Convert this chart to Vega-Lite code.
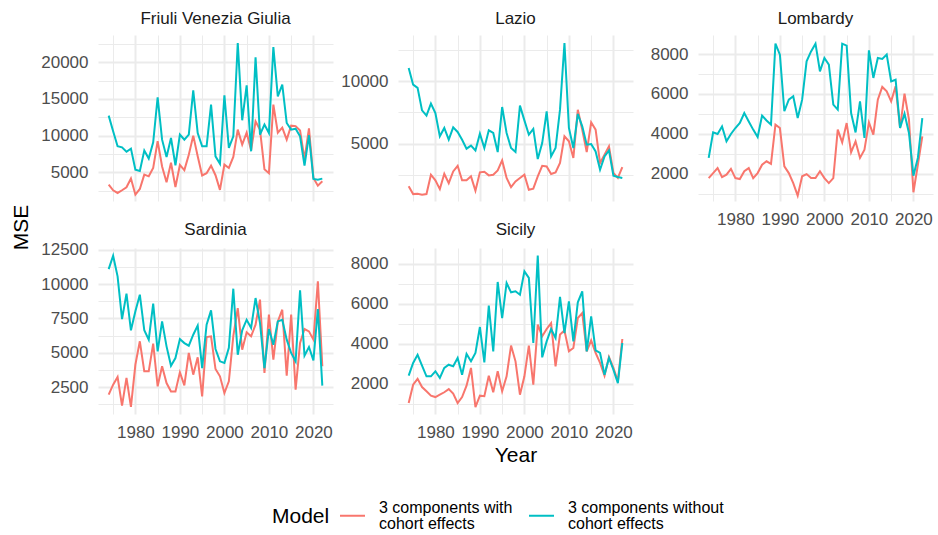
{
  "$schema": "https://vega.github.io/schema/vega-lite/v6.json",
  "autosize": {"type": "pad"},
  "padding": {"left": 10, "top": 9, "right": 5, "bottom": 5},
  "background": "white",
  "config": {
    "font": "Liberation Sans",
    "view": {"stroke": null},
    "axis": {"domain": false, "ticks": false, "tickSize": 0, "labelFontSize": 17, "labelColor": "#4D4D4D", "gridColor": "#EBEBEB", "labelPadding": 10, "titleFontSize": 21, "titleFontWeight": "normal", "titleColor": "#000000", "labelFlush": false, "labelOverlap": false},
    "title": {"fontSize": 17, "fontWeight": "normal", "color": "#1A1A1A", "offset": 7, "anchor": "middle"},
    "style": {"guide-label": {"lineHeight": 16}},
    "line": {"strokeWidth": 2}
  },
  "datasets": {
    "friuli": [
      {"year":1974,"model":"3 components with cohort effects","mse":3320},{"year":1975,"model":"3 components with cohort effects","mse":2550},{"year":1976,"model":"3 components with cohort effects","mse":2180},{"year":1977,"model":"3 components with cohort effects","mse":2550},{"year":1978,"model":"3 components with cohort effects","mse":2960},{"year":1979,"model":"3 components with cohort effects","mse":4140},{"year":1980,"model":"3 components with cohort effects","mse":1950},{"year":1981,"model":"3 components with cohort effects","mse":2730},{"year":1982,"model":"3 components with cohort effects","mse":4680},{"year":1983,"model":"3 components with cohort effects","mse":4450},{"year":1984,"model":"3 components with cohort effects","mse":5600},{"year":1985,"model":"3 components with cohort effects","mse":9250},{"year":1986,"model":"3 components with cohort effects","mse":5800},{"year":1987,"model":"3 components with cohort effects","mse":3650},{"year":1988,"model":"3 components with cohort effects","mse":6300},{"year":1989,"model":"3 components with cohort effects","mse":3000},{"year":1990,"model":"3 components with cohort effects","mse":6000},{"year":1991,"model":"3 components with cohort effects","mse":5300},{"year":1992,"model":"3 components with cohort effects","mse":7400},{"year":1993,"model":"3 components with cohort effects","mse":10000},{"year":1994,"model":"3 components with cohort effects","mse":7180},{"year":1995,"model":"3 components with cohort effects","mse":4570},{"year":1996,"model":"3 components with cohort effects","mse":4870},{"year":1997,"model":"3 components with cohort effects","mse":5910},{"year":1998,"model":"3 components with cohort effects","mse":4600},{"year":1999,"model":"3 components with cohort effects","mse":2600},{"year":2000,"model":"3 components with cohort effects","mse":6050},{"year":2001,"model":"3 components with cohort effects","mse":5590},{"year":2002,"model":"3 components with cohort effects","mse":7100},{"year":2003,"model":"3 components with cohort effects","mse":10820},{"year":2004,"model":"3 components with cohort effects","mse":8770},{"year":2005,"model":"3 components with cohort effects","mse":10400},{"year":2006,"model":"3 components with cohort effects","mse":8000},{"year":2007,"model":"3 components with cohort effects","mse":11950},{"year":2008,"model":"3 components with cohort effects","mse":10800},{"year":2009,"model":"3 components with cohort effects","mse":5400},{"year":2010,"model":"3 components with cohort effects","mse":4870},{"year":2011,"model":"3 components with cohort effects","mse":14230},{"year":2012,"model":"3 components with cohort effects","mse":10400},{"year":2013,"model":"3 components with cohort effects","mse":11100},{"year":2014,"model":"3 components with cohort effects","mse":9450},{"year":2015,"model":"3 components with cohort effects","mse":11360},{"year":2016,"model":"3 components with cohort effects","mse":11300},{"year":2017,"model":"3 components with cohort effects","mse":10700},{"year":2018,"model":"3 components with cohort effects","mse":6800},{"year":2019,"model":"3 components with cohort effects","mse":11000},{"year":2020,"model":"3 components with cohort effects","mse":4230},{"year":2021,"model":"3 components with cohort effects","mse":3180},{"year":2022,"model":"3 components with cohort effects","mse":3770},
      {"year":1974,"model":"3 components without cohort effects","mse":12730},{"year":1975,"model":"3 components without cohort effects","mse":10600},{"year":1976,"model":"3 components without cohort effects","mse":8550},{"year":1977,"model":"3 components without cohort effects","mse":8400},{"year":1978,"model":"3 components without cohort effects","mse":7800},{"year":1979,"model":"3 components without cohort effects","mse":8230},{"year":1980,"model":"3 components without cohort effects","mse":5360},{"year":1981,"model":"3 components without cohort effects","mse":5180},{"year":1982,"model":"3 components without cohort effects","mse":7980},{"year":1983,"model":"3 components without cohort effects","mse":6880},{"year":1984,"model":"3 components without cohort effects","mse":9100},{"year":1985,"model":"3 components without cohort effects","mse":15230},{"year":1986,"model":"3 components without cohort effects","mse":9450},{"year":1987,"model":"3 components without cohort effects","mse":7090},{"year":1988,"model":"3 components without cohort effects","mse":9680},{"year":1989,"model":"3 components without cohort effects","mse":5960},{"year":1990,"model":"3 components without cohort effects","mse":10140},{"year":1991,"model":"3 components without cohort effects","mse":9450},{"year":1992,"model":"3 components without cohort effects","mse":10140},{"year":1993,"model":"3 components without cohort effects","mse":16180},{"year":1994,"model":"3 components without cohort effects","mse":10360},{"year":1995,"model":"3 components without cohort effects","mse":8550},{"year":1996,"model":"3 components without cohort effects","mse":8550},{"year":1997,"model":"3 components without cohort effects","mse":14230},{"year":1998,"model":"3 components without cohort effects","mse":7180},{"year":1999,"model":"3 components without cohort effects","mse":6180},{"year":2000,"model":"3 components without cohort effects","mse":15500},{"year":2001,"model":"3 components without cohort effects","mse":8320},{"year":2002,"model":"3 components without cohort effects","mse":9910},{"year":2003,"model":"3 components without cohort effects","mse":22640},{"year":2004,"model":"3 components without cohort effects","mse":12090},{"year":2005,"model":"3 components without cohort effects","mse":16860},{"year":2006,"model":"3 components without cohort effects","mse":7860},{"year":2007,"model":"3 components without cohort effects","mse":20680},{"year":2008,"model":"3 components without cohort effects","mse":10140},{"year":2009,"model":"3 components without cohort effects","mse":11500},{"year":2010,"model":"3 components without cohort effects","mse":10360},{"year":2011,"model":"3 components without cohort effects","mse":22090},{"year":2012,"model":"3 components without cohort effects","mse":15360},{"year":2013,"model":"3 components without cohort effects","mse":16950},{"year":2014,"model":"3 components without cohort effects","mse":11730},{"year":2015,"model":"3 components without cohort effects","mse":10820},{"year":2016,"model":"3 components without cohort effects","mse":10950},{"year":2017,"model":"3 components without cohort effects","mse":9910},{"year":2018,"model":"3 components without cohort effects","mse":5910},{"year":2019,"model":"3 components without cohort effects","mse":10050},{"year":2020,"model":"3 components without cohort effects","mse":4090},{"year":2021,"model":"3 components without cohort effects","mse":4000},{"year":2022,"model":"3 components without cohort effects","mse":4140}
    ],
    "lazio": [
      {"year":1974,"model":"3 components with cohort effects","mse":1580},{"year":1975,"model":"3 components with cohort effects","mse":960},{"year":1976,"model":"3 components with cohort effects","mse":990},{"year":1977,"model":"3 components with cohort effects","mse":910},{"year":1978,"model":"3 components with cohort effects","mse":960},{"year":1979,"model":"3 components with cohort effects","mse":2510},{"year":1980,"model":"3 components with cohort effects","mse":2060},{"year":1981,"model":"3 components with cohort effects","mse":1360},{"year":1982,"model":"3 components with cohort effects","mse":2590},{"year":1983,"model":"3 components with cohort effects","mse":1840},{"year":1984,"model":"3 components with cohort effects","mse":2780},{"year":1985,"model":"3 components with cohort effects","mse":3230},{"year":1986,"model":"3 components with cohort effects","mse":2060},{"year":1987,"model":"3 components with cohort effects","mse":2060},{"year":1988,"model":"3 components with cohort effects","mse":2380},{"year":1989,"model":"3 components with cohort effects","mse":1230},{"year":1990,"model":"3 components with cohort effects","mse":2700},{"year":1991,"model":"3 components with cohort effects","mse":2750},{"year":1992,"model":"3 components with cohort effects","mse":2460},{"year":1993,"model":"3 components with cohort effects","mse":2510},{"year":1994,"model":"3 components with cohort effects","mse":2860},{"year":1995,"model":"3 components with cohort effects","mse":3660},{"year":1996,"model":"3 components with cohort effects","mse":2250},{"year":1997,"model":"3 components with cohort effects","mse":1520},{"year":1998,"model":"3 components with cohort effects","mse":1980},{"year":1999,"model":"3 components with cohort effects","mse":2250},{"year":2000,"model":"3 components with cohort effects","mse":2510},{"year":2001,"model":"3 components with cohort effects","mse":1310},{"year":2002,"model":"3 components with cohort effects","mse":1390},{"year":2003,"model":"3 components with cohort effects","mse":2380},{"year":2004,"model":"3 components with cohort effects","mse":3230},{"year":2005,"model":"3 components with cohort effects","mse":3180},{"year":2006,"model":"3 components with cohort effects","mse":2570},{"year":2007,"model":"3 components with cohort effects","mse":2700},{"year":2008,"model":"3 components with cohort effects","mse":3450},{"year":2009,"model":"3 components with cohort effects","mse":5590},{"year":2010,"model":"3 components with cohort effects","mse":5190},{"year":2011,"model":"3 components with cohort effects","mse":3850},{"year":2012,"model":"3 components with cohort effects","mse":7720},{"year":2013,"model":"3 components with cohort effects","mse":6120},{"year":2014,"model":"3 components with cohort effects","mse":4330},{"year":2015,"model":"3 components with cohort effects","mse":6710},{"year":2016,"model":"3 components with cohort effects","mse":6120},{"year":2017,"model":"3 components with cohort effects","mse":3450},{"year":2018,"model":"3 components with cohort effects","mse":4120},{"year":2019,"model":"3 components with cohort effects","mse":4790},{"year":2020,"model":"3 components with cohort effects","mse":2650},{"year":2021,"model":"3 components with cohort effects","mse":2250},{"year":2022,"model":"3 components with cohort effects","mse":3130},
      {"year":1974,"model":"3 components without cohort effects","mse":11070},{"year":1975,"model":"3 components without cohort effects","mse":9730},{"year":1976,"model":"3 components without cohort effects","mse":9470},{"year":1977,"model":"3 components without cohort effects","mse":7670},{"year":1978,"model":"3 components without cohort effects","mse":7250},{"year":1979,"model":"3 components without cohort effects","mse":8210},{"year":1980,"model":"3 components without cohort effects","mse":7460},{"year":1981,"model":"3 components without cohort effects","mse":5590},{"year":1982,"model":"3 components without cohort effects","mse":6260},{"year":1983,"model":"3 components without cohort effects","mse":5320},{"year":1984,"model":"3 components without cohort effects","mse":6310},{"year":1985,"model":"3 components without cohort effects","mse":5940},{"year":1986,"model":"3 components without cohort effects","mse":5320},{"year":1987,"model":"3 components without cohort effects","mse":4600},{"year":1988,"model":"3 components without cohort effects","mse":4840},{"year":1989,"model":"3 components without cohort effects","mse":4460},{"year":1990,"model":"3 components without cohort effects","mse":5800},{"year":1991,"model":"3 components without cohort effects","mse":4650},{"year":1992,"model":"3 components without cohort effects","mse":6070},{"year":1993,"model":"3 components without cohort effects","mse":5860},{"year":1994,"model":"3 components without cohort effects","mse":4330},{"year":1995,"model":"3 components without cohort effects","mse":7940},{"year":1996,"model":"3 components without cohort effects","mse":5860},{"year":1997,"model":"3 components without cohort effects","mse":4650},{"year":1998,"model":"3 components without cohort effects","mse":4330},{"year":1999,"model":"3 components without cohort effects","mse":8050},{"year":2000,"model":"3 components without cohort effects","mse":6870},{"year":2001,"model":"3 components without cohort effects","mse":5720},{"year":2002,"model":"3 components without cohort effects","mse":6180},{"year":2003,"model":"3 components without cohort effects","mse":3770},{"year":2004,"model":"3 components without cohort effects","mse":5050},{"year":2005,"model":"3 components without cohort effects","mse":7590},{"year":2006,"model":"3 components without cohort effects","mse":3980},{"year":2007,"model":"3 components without cohort effects","mse":4650},{"year":2008,"model":"3 components without cohort effects","mse":7730},{"year":2009,"model":"3 components without cohort effects","mse":13070},{"year":2010,"model":"3 components without cohort effects","mse":6260},{"year":2011,"model":"3 components without cohort effects","mse":4650},{"year":2012,"model":"3 components without cohort effects","mse":7380},{"year":2013,"model":"3 components without cohort effects","mse":6390},{"year":2014,"model":"3 components without cohort effects","mse":4920},{"year":2015,"model":"3 components without cohort effects","mse":4970},{"year":2016,"model":"3 components without cohort effects","mse":4380},{"year":2017,"model":"3 components without cohort effects","mse":2910},{"year":2018,"model":"3 components without cohort effects","mse":3980},{"year":2019,"model":"3 components without cohort effects","mse":4460},{"year":2020,"model":"3 components without cohort effects","mse":2430},{"year":2021,"model":"3 components without cohort effects","mse":2330},{"year":2022,"model":"3 components without cohort effects","mse":2250}
    ],
    "lombardy": [
      {"year":1974,"model":"3 components with cohort effects","mse":1780},{"year":1975,"model":"3 components with cohort effects","mse":2030},{"year":1976,"model":"3 components with cohort effects","mse":2280},{"year":1977,"model":"3 components with cohort effects","mse":1830},{"year":1978,"model":"3 components with cohort effects","mse":1950},{"year":1979,"model":"3 components with cohort effects","mse":2240},{"year":1980,"model":"3 components with cohort effects","mse":1780},{"year":1981,"model":"3 components with cohort effects","mse":1730},{"year":1982,"model":"3 components with cohort effects","mse":2120},{"year":1983,"model":"3 components with cohort effects","mse":2280},{"year":1984,"model":"3 components with cohort effects","mse":1780},{"year":1985,"model":"3 components with cohort effects","mse":2030},{"year":1986,"model":"3 components with cohort effects","mse":2450},{"year":1987,"model":"3 components with cohort effects","mse":2620},{"year":1988,"model":"3 components with cohort effects","mse":2490},{"year":1989,"model":"3 components with cohort effects","mse":4460},{"year":1990,"model":"3 components with cohort effects","mse":4290},{"year":1991,"model":"3 components with cohort effects","mse":2370},{"year":1992,"model":"3 components with cohort effects","mse":2030},{"year":1993,"model":"3 components with cohort effects","mse":1530},{"year":1994,"model":"3 components with cohort effects","mse":900},{"year":1995,"model":"3 components with cohort effects","mse":1870},{"year":1996,"model":"3 components with cohort effects","mse":1980},{"year":1997,"model":"3 components with cohort effects","mse":1780},{"year":1998,"model":"3 components with cohort effects","mse":1780},{"year":1999,"model":"3 components with cohort effects","mse":2120},{"year":2000,"model":"3 components with cohort effects","mse":1780},{"year":2001,"model":"3 components with cohort effects","mse":1530},{"year":2002,"model":"3 components with cohort effects","mse":1780},{"year":2003,"model":"3 components with cohort effects","mse":4210},{"year":2004,"model":"3 components with cohort effects","mse":3570},{"year":2005,"model":"3 components with cohort effects","mse":4540},{"year":2006,"model":"3 components with cohort effects","mse":3070},{"year":2007,"model":"3 components with cohort effects","mse":3620},{"year":2008,"model":"3 components with cohort effects","mse":2790},{"year":2009,"model":"3 components with cohort effects","mse":3200},{"year":2010,"model":"3 components with cohort effects","mse":4570},{"year":2011,"model":"3 components with cohort effects","mse":3960},{"year":2012,"model":"3 components with cohort effects","mse":5710},{"year":2013,"model":"3 components with cohort effects","mse":6350},{"year":2014,"model":"3 components with cohort effects","mse":6130},{"year":2015,"model":"3 components with cohort effects","mse":5630},{"year":2016,"model":"3 components with cohort effects","mse":6380},{"year":2017,"model":"3 components with cohort effects","mse":4290},{"year":2018,"model":"3 components with cohort effects","mse":6010},{"year":2019,"model":"3 components with cohort effects","mse":4710},{"year":2020,"model":"3 components with cohort effects","mse":1070},{"year":2021,"model":"3 components with cohort effects","mse":2450},{"year":2022,"model":"3 components with cohort effects","mse":3870},
      {"year":1974,"model":"3 components without cohort effects","mse":2790},{"year":1975,"model":"3 components without cohort effects","mse":4070},{"year":1976,"model":"3 components without cohort effects","mse":3990},{"year":1977,"model":"3 components without cohort effects","mse":4370},{"year":1978,"model":"3 components without cohort effects","mse":3620},{"year":1979,"model":"3 components without cohort effects","mse":3990},{"year":1980,"model":"3 components without cohort effects","mse":4290},{"year":1981,"model":"3 components without cohort effects","mse":4540},{"year":1982,"model":"3 components without cohort effects","mse":5040},{"year":1983,"model":"3 components without cohort effects","mse":4620},{"year":1984,"model":"3 components without cohort effects","mse":4210},{"year":1985,"model":"3 components without cohort effects","mse":3840},{"year":1986,"model":"3 components without cohort effects","mse":4910},{"year":1987,"model":"3 components without cohort effects","mse":4670},{"year":1988,"model":"3 components without cohort effects","mse":4460},{"year":1989,"model":"3 components without cohort effects","mse":8520},{"year":1990,"model":"3 components without cohort effects","mse":7970},{"year":1991,"model":"3 components without cohort effects","mse":5130},{"year":1992,"model":"3 components without cohort effects","mse":5710},{"year":1993,"model":"3 components without cohort effects","mse":5880},{"year":1994,"model":"3 components without cohort effects","mse":4790},{"year":1995,"model":"3 components without cohort effects","mse":5710},{"year":1996,"model":"3 components without cohort effects","mse":7630},{"year":1997,"model":"3 components without cohort effects","mse":8130},{"year":1998,"model":"3 components without cohort effects","mse":8520},{"year":1999,"model":"3 components without cohort effects","mse":7130},{"year":2000,"model":"3 components without cohort effects","mse":7800},{"year":2001,"model":"3 components without cohort effects","mse":7470},{"year":2002,"model":"3 components without cohort effects","mse":5460},{"year":2003,"model":"3 components without cohort effects","mse":5210},{"year":2004,"model":"3 components without cohort effects","mse":8520},{"year":2005,"model":"3 components without cohort effects","mse":8420},{"year":2006,"model":"3 components without cohort effects","mse":5040},{"year":2007,"model":"3 components without cohort effects","mse":4070},{"year":2008,"model":"3 components without cohort effects","mse":5630},{"year":2009,"model":"3 components without cohort effects","mse":3790},{"year":2010,"model":"3 components without cohort effects","mse":8180},{"year":2011,"model":"3 components without cohort effects","mse":6800},{"year":2012,"model":"3 components without cohort effects","mse":7800},{"year":2013,"model":"3 components without cohort effects","mse":7750},{"year":2014,"model":"3 components without cohort effects","mse":7970},{"year":2015,"model":"3 components without cohort effects","mse":6630},{"year":2016,"model":"3 components without cohort effects","mse":6710},{"year":2017,"model":"3 components without cohort effects","mse":4290},{"year":2018,"model":"3 components without cohort effects","mse":5010},{"year":2019,"model":"3 components without cohort effects","mse":4040},{"year":2020,"model":"3 components without cohort effects","mse":1900},{"year":2021,"model":"3 components without cohort effects","mse":2790},{"year":2022,"model":"3 components without cohort effects","mse":4790}
    ],
    "sardinia": [
      {"year":1974,"model":"3 components with cohort effects","mse":1940},{"year":1975,"model":"3 components with cohort effects","mse":2670},{"year":1976,"model":"3 components with cohort effects","mse":3230},{"year":1977,"model":"3 components with cohort effects","mse":1140},{"year":1978,"model":"3 components with cohort effects","mse":3160},{"year":1979,"model":"3 components with cohort effects","mse":1050},{"year":1980,"model":"3 components with cohort effects","mse":4130},{"year":1981,"model":"3 components with cohort effects","mse":5830},{"year":1982,"model":"3 components with cohort effects","mse":3640},{"year":1983,"model":"3 components with cohort effects","mse":3640},{"year":1984,"model":"3 components with cohort effects","mse":5660},{"year":1985,"model":"3 components with cohort effects","mse":2550},{"year":1986,"model":"3 components with cohort effects","mse":4010},{"year":1987,"model":"3 components with cohort effects","mse":2790},{"year":1988,"model":"3 components with cohort effects","mse":2180},{"year":1989,"model":"3 components with cohort effects","mse":2180},{"year":1990,"model":"3 components with cohort effects","mse":3570},{"year":1991,"model":"3 components with cohort effects","mse":2620},{"year":1992,"model":"3 components with cohort effects","mse":4980},{"year":1993,"model":"3 components with cohort effects","mse":3400},{"year":1994,"model":"3 components with cohort effects","mse":4660},{"year":1995,"model":"3 components with cohort effects","mse":1820},{"year":1996,"model":"3 components with cohort effects","mse":6140},{"year":1997,"model":"3 components with cohort effects","mse":6190},{"year":1998,"model":"3 components with cohort effects","mse":3810},{"year":1999,"model":"3 components with cohort effects","mse":3280},{"year":2000,"model":"3 components with cohort effects","mse":2060},{"year":2001,"model":"3 components with cohort effects","mse":2910},{"year":2002,"model":"3 components with cohort effects","mse":6200},{"year":2003,"model":"3 components with cohort effects","mse":8250},{"year":2004,"model":"3 components with cohort effects","mse":5220},{"year":2005,"model":"3 components with cohort effects","mse":6480},{"year":2006,"model":"3 components with cohort effects","mse":6190},{"year":2007,"model":"3 components with cohort effects","mse":7040},{"year":2008,"model":"3 components with cohort effects","mse":8860},{"year":2009,"model":"3 components with cohort effects","mse":3520},{"year":2010,"model":"3 components with cohort effects","mse":7770},{"year":2011,"model":"3 components with cohort effects","mse":4490},{"year":2012,"model":"3 components with cohort effects","mse":7280},{"year":2013,"model":"3 components with cohort effects","mse":8130},{"year":2014,"model":"3 components with cohort effects","mse":3330},{"year":2015,"model":"3 components with cohort effects","mse":7770},{"year":2016,"model":"3 components with cohort effects","mse":2310},{"year":2017,"model":"3 components with cohort effects","mse":5700},{"year":2018,"model":"3 components with cohort effects","mse":6720},{"year":2019,"model":"3 components with cohort effects","mse":6550},{"year":2020,"model":"3 components with cohort effects","mse":5950},{"year":2021,"model":"3 components with cohort effects","mse":10190},{"year":2022,"model":"3 components with cohort effects","mse":4010},
      {"year":1974,"model":"3 components without cohort effects","mse":11090},{"year":1975,"model":"3 components without cohort effects","mse":12060},{"year":1976,"model":"3 components without cohort effects","mse":10560},{"year":1977,"model":"3 components without cohort effects","mse":7450},{"year":1978,"model":"3 components without cohort effects","mse":9300},{"year":1979,"model":"3 components without cohort effects","mse":6630},{"year":1980,"model":"3 components without cohort effects","mse":8010},{"year":1981,"model":"3 components without cohort effects","mse":9220},{"year":1982,"model":"3 components without cohort effects","mse":6630},{"year":1983,"model":"3 components without cohort effects","mse":5950},{"year":1984,"model":"3 components without cohort effects","mse":8570},{"year":1985,"model":"3 components without cohort effects","mse":5100},{"year":1986,"model":"3 components without cohort effects","mse":7280},{"year":1987,"model":"3 components without cohort effects","mse":5460},{"year":1988,"model":"3 components without cohort effects","mse":4050},{"year":1989,"model":"3 components without cohort effects","mse":4610},{"year":1990,"model":"3 components without cohort effects","mse":5990},{"year":1991,"model":"3 components without cohort effects","mse":5700},{"year":1992,"model":"3 components without cohort effects","mse":5510},{"year":1993,"model":"3 components without cohort effects","mse":6310},{"year":1994,"model":"3 components without cohort effects","mse":6970},{"year":1995,"model":"3 components without cohort effects","mse":3880},{"year":1996,"model":"3 components without cohort effects","mse":7040},{"year":1997,"model":"3 components without cohort effects","mse":8080},{"year":1998,"model":"3 components without cohort effects","mse":5270},{"year":1999,"model":"3 components without cohort effects","mse":4370},{"year":2000,"model":"3 components without cohort effects","mse":4250},{"year":2001,"model":"3 components without cohort effects","mse":5350},{"year":2002,"model":"3 components without cohort effects","mse":9660},{"year":2003,"model":"3 components without cohort effects","mse":4850},{"year":2004,"model":"3 components without cohort effects","mse":6630},{"year":2005,"model":"3 components without cohort effects","mse":7400},{"year":2006,"model":"3 components without cohort effects","mse":6800},{"year":2007,"model":"3 components without cohort effects","mse":8980},{"year":2008,"model":"3 components without cohort effects","mse":7160},{"year":2009,"model":"3 components without cohort effects","mse":3880},{"year":2010,"model":"3 components without cohort effects","mse":6720},{"year":2011,"model":"3 components without cohort effects","mse":5580},{"year":2012,"model":"3 components without cohort effects","mse":7280},{"year":2013,"model":"3 components without cohort effects","mse":7400},{"year":2014,"model":"3 components without cohort effects","mse":5950},{"year":2015,"model":"3 components without cohort effects","mse":4980},{"year":2016,"model":"3 components without cohort effects","mse":4370},{"year":2017,"model":"3 components without cohort effects","mse":9540},{"year":2018,"model":"3 components without cohort effects","mse":4780},{"year":2019,"model":"3 components without cohort effects","mse":5410},{"year":2020,"model":"3 components without cohort effects","mse":4440},{"year":2021,"model":"3 components without cohort effects","mse":8180},{"year":2022,"model":"3 components without cohort effects","mse":2600}
    ],
    "sicily": [
      {"year":1974,"model":"3 components with cohort effects","mse":1030},{"year":1975,"model":"3 components with cohort effects","mse":1950},{"year":1976,"model":"3 components with cohort effects","mse":2240},{"year":1977,"model":"3 components with cohort effects","mse":1830},{"year":1978,"model":"3 components with cohort effects","mse":1620},{"year":1979,"model":"3 components with cohort effects","mse":1400},{"year":1980,"model":"3 components with cohort effects","mse":1330},{"year":1981,"model":"3 components with cohort effects","mse":1450},{"year":1982,"model":"3 components with cohort effects","mse":1570},{"year":1983,"model":"3 components with cohort effects","mse":1730},{"year":1984,"model":"3 components with cohort effects","mse":1500},{"year":1985,"model":"3 components with cohort effects","mse":1030},{"year":1986,"model":"3 components with cohort effects","mse":1330},{"year":1987,"model":"3 components with cohort effects","mse":1900},{"year":1988,"model":"3 components with cohort effects","mse":2790},{"year":1989,"model":"3 components with cohort effects","mse":830},{"year":1990,"model":"3 components with cohort effects","mse":1400},{"year":1991,"model":"3 components with cohort effects","mse":1370},{"year":1992,"model":"3 components with cohort effects","mse":2400},{"year":1993,"model":"3 components with cohort effects","mse":1570},{"year":1994,"model":"3 components with cohort effects","mse":2620},{"year":1995,"model":"3 components with cohort effects","mse":1620},{"year":1996,"model":"3 components with cohort effects","mse":2370},{"year":1997,"model":"3 components with cohort effects","mse":3910},{"year":1998,"model":"3 components with cohort effects","mse":3120},{"year":1999,"model":"3 components with cohort effects","mse":1450},{"year":2000,"model":"3 components with cohort effects","mse":2370},{"year":2001,"model":"3 components with cohort effects","mse":3910},{"year":2002,"model":"3 components with cohort effects","mse":1950},{"year":2003,"model":"3 components with cohort effects","mse":4960},{"year":2004,"model":"3 components with cohort effects","mse":4380},{"year":2005,"model":"3 components with cohort effects","mse":4740},{"year":2006,"model":"3 components with cohort effects","mse":5040},{"year":2007,"model":"3 components with cohort effects","mse":2870},{"year":2008,"model":"3 components with cohort effects","mse":4460},{"year":2009,"model":"3 components with cohort effects","mse":4670},{"year":2010,"model":"3 components with cohort effects","mse":3620},{"year":2011,"model":"3 components with cohort effects","mse":3790},{"year":2012,"model":"3 components with cohort effects","mse":5290},{"year":2013,"model":"3 components with cohort effects","mse":5540},{"year":2014,"model":"3 components with cohort effects","mse":3620},{"year":2015,"model":"3 components with cohort effects","mse":4170},{"year":2016,"model":"3 components with cohort effects","mse":3540},{"year":2017,"model":"3 components with cohort effects","mse":3040},{"year":2018,"model":"3 components with cohort effects","mse":2400},{"year":2019,"model":"3 components with cohort effects","mse":3340},{"year":2020,"model":"3 components with cohort effects","mse":2790},{"year":2021,"model":"3 components with cohort effects","mse":2120},{"year":2022,"model":"3 components with cohort effects","mse":4240},
      {"year":1974,"model":"3 components without cohort effects","mse":2400},{"year":1975,"model":"3 components without cohort effects","mse":3040},{"year":1976,"model":"3 components without cohort effects","mse":3450},{"year":1977,"model":"3 components without cohort effects","mse":2900},{"year":1978,"model":"3 components without cohort effects","mse":2370},{"year":1979,"model":"3 components without cohort effects","mse":2370},{"year":1980,"model":"3 components without cohort effects","mse":2620},{"year":1981,"model":"3 components without cohort effects","mse":2290},{"year":1982,"model":"3 components without cohort effects","mse":2790},{"year":1983,"model":"3 components without cohort effects","mse":2950},{"year":1984,"model":"3 components without cohort effects","mse":2870},{"year":1985,"model":"3 components without cohort effects","mse":3290},{"year":1986,"model":"3 components without cohort effects","mse":2450},{"year":1987,"model":"3 components without cohort effects","mse":3490},{"year":1988,"model":"3 components without cohort effects","mse":3120},{"year":1989,"model":"3 components without cohort effects","mse":3540},{"year":1990,"model":"3 components without cohort effects","mse":4840},{"year":1991,"model":"3 components without cohort effects","mse":3070},{"year":1992,"model":"3 components without cohort effects","mse":5910},{"year":1993,"model":"3 components without cohort effects","mse":3620},{"year":1994,"model":"3 components without cohort effects","mse":7100},{"year":1995,"model":"3 components without cohort effects","mse":5290},{"year":1996,"model":"3 components without cohort effects","mse":7050},{"year":1997,"model":"3 components without cohort effects","mse":6580},{"year":1998,"model":"3 components without cohort effects","mse":6630},{"year":1999,"model":"3 components without cohort effects","mse":6460},{"year":2000,"model":"3 components without cohort effects","mse":7630},{"year":2001,"model":"3 components without cohort effects","mse":7300},{"year":2002,"model":"3 components without cohort effects","mse":4040},{"year":2003,"model":"3 components without cohort effects","mse":8420},{"year":2004,"model":"3 components without cohort effects","mse":3320},{"year":2005,"model":"3 components without cohort effects","mse":4120},{"year":2006,"model":"3 components without cohort effects","mse":4740},{"year":2007,"model":"3 components without cohort effects","mse":4290},{"year":2008,"model":"3 components without cohort effects","mse":6350},{"year":2009,"model":"3 components without cohort effects","mse":4540},{"year":2010,"model":"3 components without cohort effects","mse":6130},{"year":2011,"model":"3 components without cohort effects","mse":4120},{"year":2012,"model":"3 components without cohort effects","mse":6080},{"year":2013,"model":"3 components without cohort effects","mse":6630},{"year":2014,"model":"3 components without cohort effects","mse":3620},{"year":2015,"model":"3 components without cohort effects","mse":5380},{"year":2016,"model":"3 components without cohort effects","mse":3670},{"year":2017,"model":"3 components without cohort effects","mse":3540},{"year":2018,"model":"3 components without cohort effects","mse":2450},{"year":2019,"model":"3 components without cohort effects","mse":3290},{"year":2020,"model":"3 components without cohort effects","mse":2700},{"year":2021,"model":"3 components without cohort effects","mse":2030},{"year":2022,"model":"3 components without cohort effects","mse":4040}
    ]
  },
  "concat": [
    {
      "title": "Friuli Venezia Giulia",
      "width": 235, "height": 166,
      "data": {"name": "friuli"},
      "mark": {"type": "line", "strokeWidth": 2},
      "encoding": {
        "x": {"field": "year", "type": "quantitative", "scale": {"domain": [1971.6, 2024.4], "nice": false, "zero": false},
              "axis": {"values": [1975,1980,1985,1990,1995,2000,2005,2010,2015,2020], "labels": false, "title": null, "gridWidth": {"condition": {"test": "datum.value % 10 == 0", "value": 2}, "value": 1}}},
        "y": {"field": "mse", "type": "quantitative", "scale": {"domain": [1086, 23723], "nice": false, "zero": false},
              "axis": {"values": [2500,5000,7500,10000,12500,15000,17500,20000,22500], "format": "d", "labelExpr": "datum.value % 5000 == 0 ? datum.label : ''", "gridWidth": {"condition": {"test": "datum.value % 5000 == 0", "value": 2}, "value": 1},
                       "title": "MSE", "titleAngle": -90, "titleAlign": "center", "titleBaseline": "middle", "titleX": -77, "titleY": 192}},
        "color": {"field": "model", "type": "nominal",
                  "scale": {"domain": ["3 components with cohort effects", "3 components without cohort effects"], "range": ["#F8766D", "#00BFC4"]},
                  "legend": {"orient": "none", "legendX": 174, "legendY": 467, "direction": "horizontal", "title": "Model", "titleOrient": "left", "titleFontSize": 21, "titleFontWeight": "normal", "titleColor": "#000000", "titlePadding": 9, "labelFontSize": 16, "labelColor": "#000000", "labelBaseline": "bottom", "labelLimit": 400, "labelOffset": 13, "columnPadding": 12, "symbolType": "stroke", "symbolSize": 625, "symbolStrokeWidth": 2, "labelExpr": "datum.label == '3 components with cohort effects' ? ['3 components with', 'cohort effects'] : ['3 components without', 'cohort effects']"}}
      }
    },
    {
      "title": "Lazio",
      "width": 235, "height": 166,
      "data": {"name": "lazio"},
      "mark": {"type": "line", "strokeWidth": 2},
      "encoding": {
        "x": {"field": "year", "type": "quantitative", "scale": {"domain": [1971.6, 2024.4], "nice": false, "zero": false},
              "axis": {"values": [1975,1980,1985,1990,1995,2000,2005,2010,2015,2020], "labels": false, "title": null, "gridWidth": {"condition": {"test": "datum.value % 10 == 0", "value": 2}, "value": 1}}},
        "y": {"field": "mse", "type": "quantitative", "scale": {"domain": [405, 13713], "nice": false, "zero": false},
              "axis": {"values": [2500,5000,7500,10000,12500], "format": "d", "labelExpr": "datum.value % 5000 == 0 ? datum.label : ''", "gridWidth": {"condition": {"test": "datum.value % 5000 == 0", "value": 2}, "value": 1}, "title": null}},
        "color": {"field": "model", "type": "nominal",
                  "scale": {"domain": ["3 components with cohort effects", "3 components without cohort effects"], "range": ["#F8766D", "#00BFC4"]},
                  "legend": {"orient": "none", "legendX": 174, "legendY": 467, "direction": "horizontal", "title": "Model", "titleOrient": "left", "titleFontSize": 21, "titleFontWeight": "normal", "titleColor": "#000000", "titlePadding": 9, "labelFontSize": 16, "labelColor": "#000000", "labelBaseline": "bottom", "labelLimit": 400, "labelOffset": 13, "columnPadding": 12, "symbolType": "stroke", "symbolSize": 625, "symbolStrokeWidth": 2, "labelExpr": "datum.label == '3 components with cohort effects' ? ['3 components with', 'cohort effects'] : ['3 components without', 'cohort effects']"}}
      }
    },
    {
      "title": "Lombardy",
      "width": 235, "height": 166,
      "data": {"name": "lombardy"},
      "mark": {"type": "line", "strokeWidth": 2},
      "encoding": {
        "x": {"field": "year", "type": "quantitative", "scale": {"domain": [1971.6, 2024.4], "nice": false, "zero": false},
              "axis": {"values": [1975,1980,1985,1990,1995,2000,2005,2010,2015,2020], "format": "d", "labelExpr": "datum.value % 10 == 0 ? datum.label : ''", "title": null, "gridWidth": {"condition": {"test": "datum.value % 10 == 0", "value": 2}, "value": 1}}},
        "y": {"field": "mse", "type": "quantitative", "scale": {"domain": [631, 8953], "nice": false, "zero": false},
              "axis": {"values": [1000,2000,3000,4000,5000,6000,7000,8000], "format": "d", "labelExpr": "datum.value % 2000 == 0 ? datum.label : ''", "gridWidth": {"condition": {"test": "datum.value % 2000 == 0", "value": 2}, "value": 1}, "title": null}},
        "color": {"field": "model", "type": "nominal",
                  "scale": {"domain": ["3 components with cohort effects", "3 components without cohort effects"], "range": ["#F8766D", "#00BFC4"]},
                  "legend": {"orient": "none", "legendX": 174, "legendY": 467, "direction": "horizontal", "title": "Model", "titleOrient": "left", "titleFontSize": 21, "titleFontWeight": "normal", "titleColor": "#000000", "titlePadding": 9, "labelFontSize": 16, "labelColor": "#000000", "labelBaseline": "bottom", "labelLimit": 400, "labelOffset": 13, "columnPadding": 12, "symbolType": "stroke", "symbolSize": 625, "symbolStrokeWidth": 2, "labelExpr": "datum.label == '3 components with cohort effects' ? ['3 components with', 'cohort effects'] : ['3 components without', 'cohort effects']"}}
      }
    },
    {
      "title": {"text": "Sardinia", "offset": 2},
      "width": 235, "height": 166,
      "data": {"name": "sardinia"},
      "mark": {"type": "line", "strokeWidth": 2},
      "encoding": {
        "x": {"field": "year", "type": "quantitative", "scale": {"domain": [1971.6, 2024.4], "nice": false, "zero": false},
              "axis": {"values": [1975,1980,1985,1990,1995,2000,2005,2010,2015,2020], "format": "d", "labelExpr": "datum.value % 10 == 0 ? datum.label : ''", "title": null, "gridWidth": {"condition": {"test": "datum.value % 10 == 0", "value": 2}, "value": 1}}},
        "y": {"field": "mse", "type": "quantitative", "scale": {"domain": [534, 12624], "nice": false, "zero": false},
              "axis": {"values": [1250,2500,3750,5000,6250,7500,8750,10000,11250,12500], "format": "d", "labelExpr": "datum.value % 2500 == 0 ? datum.label : ''", "gridWidth": {"condition": {"test": "datum.value % 2500 == 0", "value": 2}, "value": 1}, "title": null}},
        "color": {"field": "model", "type": "nominal",
                  "scale": {"domain": ["3 components with cohort effects", "3 components without cohort effects"], "range": ["#F8766D", "#00BFC4"]},
                  "legend": {"orient": "none", "legendX": 174, "legendY": 467, "direction": "horizontal", "title": "Model", "titleOrient": "left", "titleFontSize": 21, "titleFontWeight": "normal", "titleColor": "#000000", "titlePadding": 9, "labelFontSize": 16, "labelColor": "#000000", "labelBaseline": "bottom", "labelLimit": 400, "labelOffset": 13, "columnPadding": 12, "symbolType": "stroke", "symbolSize": 625, "symbolStrokeWidth": 2, "labelExpr": "datum.label == '3 components with cohort effects' ? ['3 components with', 'cohort effects'] : ['3 components without', 'cohort effects']"}}
      }
    },
    {
      "title": {"text": "Sicily", "offset": 9},
      "width": 235, "height": 166,
      "data": {"name": "sicily"},
      "mark": {"type": "line", "strokeWidth": 2},
      "encoding": {
        "x": {"field": "year", "type": "quantitative", "scale": {"domain": [1971.6, 2024.4], "nice": false, "zero": false},
              "axis": {"values": [1975,1980,1985,1990,1995,2000,2005,2010,2015,2020], "format": "d", "labelExpr": "datum.value % 10 == 0 ? datum.label : ''", "title": "Year", "titlePadding": 4, "gridWidth": {"condition": {"test": "datum.value % 10 == 0", "value": 2}, "value": 1}}},
        "y": {"field": "mse", "type": "quantitative", "scale": {"domain": [480, 8802], "nice": false, "zero": false},
              "axis": {"values": [1000,2000,3000,4000,5000,6000,7000,8000], "format": "d", "labelExpr": "datum.value % 2000 == 0 ? datum.label : ''", "gridWidth": {"condition": {"test": "datum.value % 2000 == 0", "value": 2}, "value": 1}, "title": null}},
        "color": {"field": "model", "type": "nominal",
                  "scale": {"domain": ["3 components with cohort effects", "3 components without cohort effects"], "range": ["#F8766D", "#00BFC4"]},
                  "legend": {"orient": "none", "legendX": 174, "legendY": 467, "direction": "horizontal", "title": "Model", "titleOrient": "left", "titleFontSize": 21, "titleFontWeight": "normal", "titleColor": "#000000", "titlePadding": 9, "labelFontSize": 16, "labelColor": "#000000", "labelBaseline": "bottom", "labelLimit": 400, "labelOffset": 13, "columnPadding": 12, "symbolType": "stroke", "symbolSize": 625, "symbolStrokeWidth": 2, "labelExpr": "datum.label == '3 components with cohort effects' ? ['3 components with', 'cohort effects'] : ['3 components without', 'cohort effects']"}}
      }
    }
  ],
  "columns": 3,
  "spacing": {"row": 47, "column": 65},
  "bounds": "flush"
}
